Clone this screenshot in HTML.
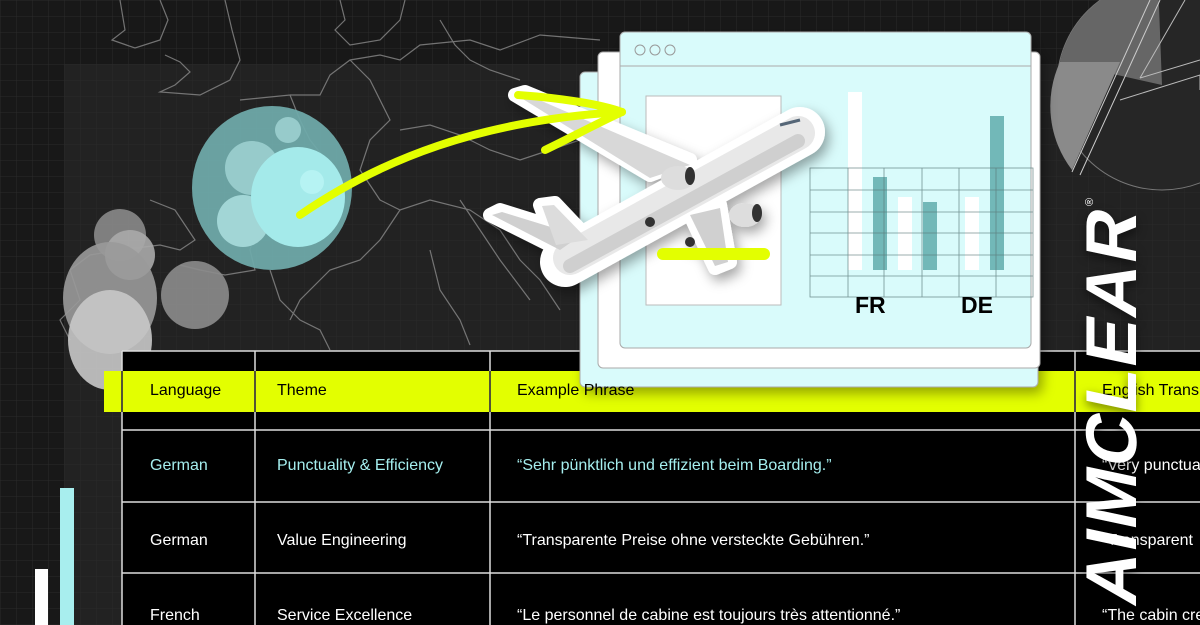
<!DOCTYPE html>
<html><head><meta charset="utf-8"><style>
html,body{margin:0;padding:0;background:#1a1a1a;}
#c{position:relative;width:1200px;height:625px;overflow:hidden;font-family:"Liberation Sans",sans-serif;}
.t{position:absolute;font-size:16px;white-space:nowrap;}
</style></head><body><div id="c">
<svg width="1200" height="625" style="position:absolute;left:0;top:0">
<defs>
<pattern id="g" width="16" height="16" patternUnits="userSpaceOnUse"><path d="M16 0H0V16" fill="none" stroke="#2a2a2a" stroke-width="1"/></pattern>
<filter id="sh" x="-20%" y="-20%" width="140%" height="140%"><feDropShadow dx="4" dy="6" stdDeviation="6" flood-color="#000" flood-opacity="0.35"/></filter>
</defs>
<rect width="1200" height="625" fill="#181818"/>
<rect x="64" y="64" width="1136" height="561" fill="#222"/>
<rect width="1200" height="625" fill="url(#g)"/>
<g fill="none" stroke="#8a8a8a" stroke-width="1.2" opacity="0.8">
<path d="M120 0 L125 30 L112 40 L135 48 L160 40 L168 20 L160 0"/>
<path d="M225 0 L232 30 L240 60 L230 80 L200 95 L160 92 L175 85 L190 72 L180 62 L165 55"/>
<path d="M240 100 L260 98 L290 95 L300 120 L310 140 L330 165 L300 175 L270 190 L260 215 L250 250 L255 270 L225 275 L200 270 L180 265"/>
<path d="M150 200 L175 210 L195 240 L180 250 L160 245 L120 250 L90 255 L70 270 L80 300 L60 320 L70 340"/>
<path d="M290 95 L320 95 L330 75 L350 60 L380 55 L400 60 L420 45 L470 40 L500 50 L540 35 L600 40"/>
<path d="M350 60 L370 80 L390 120 L370 140 L360 170 L380 200 L400 210 L430 200 L470 210 L500 230 L520 260 L540 280 L560 310"/>
<path d="M400 210 L380 240 L360 260 L330 270 L300 300 L290 320"/>
<path d="M400 130 L430 125 L460 135 L490 150 L520 160 L550 150 L580 140"/>
<path d="M440 20 L455 45 L470 60 L490 70 L520 80"/>
<path d="M340 0 L345 20 L335 30 L350 45 L380 40 L400 20 L405 0"/>
<path d="M270 270 L280 300 L300 320 L320 330 L330 350"/>
<path d="M430 250 L440 290 L460 320 L470 345"/>
<path d="M460 200 L480 230 L500 260 L530 300"/>
</g>
<g>
<circle cx="1162" cy="85" r="105" fill="#262626" stroke="#777" stroke-width="1"/>
<path d="M1162 85 L1158 -20 A105 105 0 0 0 1060 62 Z" fill="#666"/>
<path d="M1060 62 L1120 62 L1072 170 A105 105 0 0 1 1060 62 Z" fill="#8a8a8a"/>
<path d="M1150 0 L1072 172" stroke="#ccc" stroke-width="1"/>
<path d="M1160 0 L1080 175" stroke="#ccc" stroke-width="1"/>
<path d="M1140 78 L1200 60 M1120 100 L1200 75 L1200 90" stroke="#bbb" stroke-width="1" fill="none"/>
<path d="M1185 0 L1140 78" stroke="#bbb" stroke-width="1"/>
</g>
<ellipse cx="272" cy="188" rx="80" ry="82" fill="#6fa9a9" opacity="0.95"/>
<circle cx="252" cy="168" r="27" fill="#97cbcb"/>
<circle cx="288" cy="130" r="13" fill="#97cbcb"/>
<circle cx="243" cy="221" r="26" fill="#a2d6d6"/>
<ellipse cx="298" cy="197" rx="47" ry="50" fill="#a4eaea"/>
<circle cx="312" cy="182" r="12" fill="#b6f3f3"/>
<circle cx="120" cy="235" r="26" fill="#8a8a8a" opacity="0.9"/>
<circle cx="130" cy="255" r="25" fill="#aaa" opacity="0.9"/>
<circle cx="195" cy="295" r="34" fill="#8c8c8c" opacity="0.9"/>
<ellipse cx="110" cy="298" rx="47" ry="56" fill="#9a9a9a" opacity="0.9"/>
<ellipse cx="110" cy="340" rx="42" ry="50" fill="#c8c8c8" opacity="0.9"/>
<rect x="35" y="569" width="13" height="56" fill="#fff"/>
<rect x="60" y="488" width="14" height="137" fill="#a8eeee"/>
<rect x="122" y="351" width="1078" height="274" fill="#000"/>
<rect x="104" y="371" width="1096" height="41" fill="#e3ff00"/>
<g stroke="#ddd" stroke-width="1.5">
<line x1="122" y1="351" x2="1200" y2="351"/>
<line x1="122" y1="430" x2="1200" y2="430"/>
<line x1="122" y1="502" x2="1200" y2="502"/>
<line x1="122" y1="573" x2="1200" y2="573"/>
<line x1="122" y1="351" x2="122" y2="625"/>
<line x1="255" y1="351" x2="255" y2="625"/>
<line x1="490" y1="351" x2="490" y2="625"/>
<line x1="1075" y1="351" x2="1075" y2="625"/>
</g>
<g stroke="#222" stroke-width="1.5">
<line x1="122" y1="371" x2="122" y2="412"/><line x1="255" y1="371" x2="255" y2="412"/><line x1="490" y1="371" x2="490" y2="412"/><line x1="1075" y1="371" x2="1075" y2="412"/>
</g>
<g filter="url(#sh)">
<rect x="580" y="72" width="458" height="315" rx="5" fill="#d9fbfb" stroke="#aaa"/>
<rect x="598" y="52" width="442" height="316" rx="5" fill="#fff" stroke="#aaa"/>
<rect x="620" y="32" width="411" height="316" rx="5" fill="#d9fbfb" stroke="#aaa"/>
</g>
<line x1="620" y1="66" x2="1031" y2="66" stroke="#aaa"/>
<g fill="none" stroke="#999"><circle cx="640" cy="50" r="5"/><circle cx="655" cy="50" r="5"/><circle cx="670" cy="50" r="5"/></g>
<rect x="646" y="96" width="135" height="209" fill="#fff" stroke="#bbb"/>
<rect x="848" y="92" width="14" height="178" fill="#fff"/>
<rect x="873" y="177" width="14" height="93" fill="#72b8b8"/>
<rect x="898" y="197" width="14" height="73" fill="#fff"/>
<rect x="923" y="202" width="14" height="68" fill="#72b8b8"/>
<rect x="965" y="197" width="14" height="73" fill="#fff"/>
<rect x="990" y="116" width="14" height="154" fill="#72b8b8"/>
<g stroke="#5a7a7a" stroke-width="0.8" fill="none" opacity="0.8">
<rect x="810" y="168" width="223" height="129"/>
<path d="M810 190H1033M810 212H1033M810 233H1033M810 255H1033M810 276H1033M848 168V297M884 168V297M922 168V297M959 168V297M996 168V297"/>
</g>
<text x="855" y="313" font-family="Liberation Sans" font-weight="bold" font-size="23" fill="#000">FR</text>
<text x="961" y="313" font-family="Liberation Sans" font-weight="bold" font-size="23" fill="#000">DE</text>
<!-- plane -->
<g filter="url(#sh)">
<!-- outline (white sticker border) -->
<g stroke="#fff" stroke-linecap="round" stroke-linejoin="round" fill="#fff">
<line x1="565" y1="262" x2="800" y2="132" stroke-width="50"/>
<polygon points="650,175 515,95 525,92 690,160" stroke-width="14"/>
<polygon points="690,215 715,268 730,262 720,205" stroke-width="14"/>
<polygon points="560,250 490,215 500,210 580,235" stroke-width="14"/>
<polygon points="555,245 540,205 555,203 590,240" stroke-width="14"/>
</g>
<line x1="570" y1="258" x2="798" y2="133" stroke="#e8e8e8" stroke-width="34" stroke-linecap="round"/>
<line x1="570" y1="266" x2="798" y2="141" stroke="#cfcfcf" stroke-width="14" stroke-linecap="round"/>
<polygon points="650,178 518,96 530,96 690,165" fill="#d8d8d8"/>
<polygon points="690,215 715,266 728,262 720,208" fill="#d0d0d0"/>
<polygon points="560,250 492,215 502,212 580,236" fill="#d0d0d0"/>
<polygon points="556,245 542,206 554,205 588,240" fill="#dcdcdc"/>
<ellipse cx="678" cy="178" rx="17" ry="12" fill="#ddd"/>
<ellipse cx="690" cy="176" rx="5" ry="9" fill="#333"/>
<ellipse cx="745" cy="215" rx="16" ry="12" fill="#ddd"/>
<ellipse cx="757" cy="213" rx="5" ry="9" fill="#333"/>
<circle cx="650" cy="222" r="5" fill="#333"/><circle cx="690" cy="242" r="5" fill="#333"/>
<path d="M780 125 L800 120" stroke="#567" stroke-width="3"/>
</g>
<rect x="657" y="248" width="113" height="12" rx="6" fill="#e3ff00"/>
<g stroke="#e3ff00" stroke-width="8" fill="none" stroke-linecap="round">
<path d="M300 215 C380 160 480 120 622 112"/>
<path d="M518 95 C560 98 600 104 622 112"/>
<path d="M545 150 C570 138 600 122 622 112"/>
</g>
</svg>
<div class="t" style="left:150px;top:382px;color:#000">Language</div>
<div class="t" style="left:277px;top:382px;color:#000">Theme</div>
<div class="t" style="left:517px;top:382px;color:#000">Example Phrase</div>
<div class="t" style="left:1102px;top:382px;color:#000">English Translation</div>
<div class="t" style="left:150px;top:457px;color:#a5eeee">German</div>
<div class="t" style="left:277px;top:457px;color:#a5eeee">Punctuality &amp; Efficiency</div>
<div class="t" style="left:517px;top:457px;color:#a5eeee">“Sehr pünktlich und effizient beim Boarding.”</div>
<div class="t" style="left:1102px;top:457px;color:#fff">“Very punctual</div>
<div class="t" style="left:150px;top:532px;color:#fff">German</div>
<div class="t" style="left:277px;top:532px;color:#fff">Value Engineering</div>
<div class="t" style="left:517px;top:532px;color:#fff">“Transparente Preise ohne versteckte Gebühren.”</div>
<div class="t" style="left:1102px;top:532px;color:#fff">“Transparent</div>
<div class="t" style="left:150px;top:607px;color:#fff">French</div>
<div class="t" style="left:277px;top:607px;color:#fff">Service Excellence</div>
<div class="t" style="left:517px;top:607px;color:#fff">“Le personnel de cabine est toujours très attentionné.”</div>
<div class="t" style="left:1102px;top:607px;color:#fff">“The cabin crew</div>
<div style="position:absolute;left:1112px;top:405px;width:0;height:0">
<div style="position:absolute;transform:translate(-50%,-50%) rotate(-90deg) skewX(-12deg);font-family:'Liberation Sans',sans-serif;font-weight:bold;font-size:72px;color:#fff;white-space:nowrap;letter-spacing:2px;text-shadow:-4px 0 10px rgba(0,0,0,0.5);line-height:1">AIMCLEAR</div>
</div>
<div style="position:absolute;left:1086px;top:196px;color:#fff;font-size:11px;transform:rotate(-90deg)">®</div>
</div></body></html>
